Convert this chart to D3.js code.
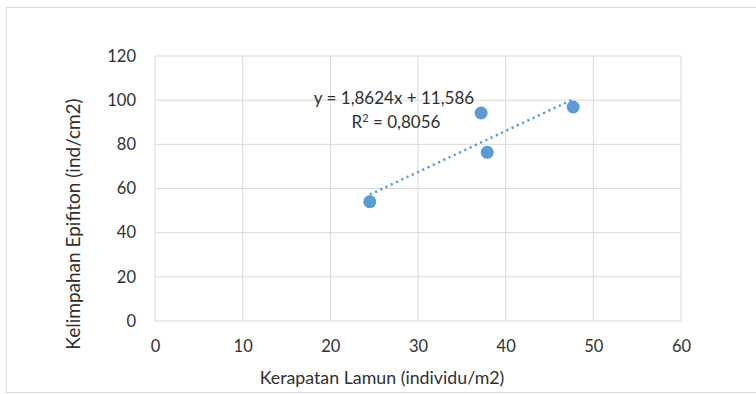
<!DOCTYPE html>
<html>
<head>
<meta charset="utf-8">
<script src="https://cdn.jsdelivr.net/npm/d3@7"></script>
<style>
  body { margin: 0; background: #fff; }
  text { font-family: Lato, "Open Sans", sans-serif; fill: #303030; }
</style>
</head>
<body>
<div id="chart"></div>
<script>
// data
var kerapatan = [24.5, 37.2, 37.9, 47.7];
var kelimpahan = [54.0, 94.2, 76.4, 96.9];
var x_ticks = [0, 10, 20, 30, 40, 50, 60];
var y_ticks = [0, 20, 40, 60, 80, 100, 120];
var slope = 1.8624;
var intercept = 11.586;
var eq_label = 'y = 1,8624x + 11,586';
var r2_label = '= 0,8056';

var chart_width = 756;
var chart_height = 394;
var margin = { left: 155, right: 75, top: 56, bottom: 73 };

var svg = d3.select('#chart')
    .append('svg')
    .attr('width', chart_width)
    .attr('height', chart_height);

// chart area border
svg.append('rect')
    .attr('x', 6.5).attr('y', 7.5)
    .attr('width', 780).attr('height', 385)
    .attr('fill', 'none')
    .attr('stroke', '#d9d9d9');

var x_scale = d3.scaleLinear()
    .domain([0, 60])
    .range([margin.left, chart_width - margin.right]);

var y_scale = d3.scaleLinear()
    .domain([0, 120])
    .range([chart_height - margin.bottom, margin.top]);

// grid
svg.append('g')
    .selectAll('line')
    .data(y_ticks)
    .enter()
    .append('line')
    .attr('x1', x_scale(0)).attr('x2', x_scale(60))
    .attr('y1', function (d) { return y_scale(d); })
    .attr('y2', function (d) { return y_scale(d); })
    .attr('stroke', '#d9d9d9');

svg.append('g')
    .selectAll('line')
    .data(x_ticks)
    .enter()
    .append('line')
    .attr('x1', function (d) { return x_scale(d); })
    .attr('x2', function (d) { return x_scale(d); })
    .attr('y1', y_scale(0)).attr('y2', y_scale(120))
    .attr('stroke', '#d9d9d9');

// axes (labels only)
var x_axis = d3.axisBottom(x_scale).tickValues(x_ticks).tickSize(0).tickPadding(19);
svg.append('g')
    .attr('transform', 'translate(0,' + y_scale(0) + ')')
    .call(x_axis)
    .call(function (g) { g.select('.domain').remove(); })
    .selectAll('text')
    .style('font-size', '16.5px')
    .style('font-family', 'Lato, sans-serif')
    .attr('fill', '#303030');

var y_axis = d3.axisLeft(y_scale).tickValues(y_ticks).tickSize(0).tickPadding(19);
svg.append('g')
    .attr('transform', 'translate(' + x_scale(0) + ',0)')
    .call(y_axis)
    .call(function (g) { g.select('.domain').remove(); })
    .selectAll('text')
    .style('font-size', '16.5px')
    .style('font-family', 'Lato, sans-serif')
    .attr('fill', '#303030');

// trendline
var x_min = d3.min(kerapatan), x_max = d3.max(kerapatan);
svg.append('line')
    .attr('x1', x_scale(x_min)).attr('y1', y_scale(slope * x_min + intercept))
    .attr('x2', x_scale(x_max)).attr('y2', y_scale(slope * x_max + intercept))
    .attr('stroke', '#5b9bd5')
    .attr('stroke-width', 2.5)
    .attr('stroke-dasharray', '2.2,3.6');

// points
svg.selectAll('circle')
    .data(kerapatan)
    .enter()
    .append('circle')
    .attr('cx', function (d) { return x_scale(d); })
    .attr('cy', function (d, i) { return y_scale(kelimpahan[i]); })
    .attr('r', 6.5)
    .attr('fill', '#5b9bd5');

// equation label
svg.append('text')
    .attr('x', 394).attr('y', 104)
    .attr('text-anchor', 'middle')
    .style('font-size', '17px')
    .text(eq_label);

var r2 = svg.append('text')
    .attr('x', 396).attr('y', 128)
    .attr('text-anchor', 'middle')
    .style('font-size', '17px');
r2.append('tspan').text('R');
r2.append('tspan').attr('dy', -6).style('font-size', '11px').text('2');
r2.append('tspan').attr('dy', 6).text(' ' + r2_label);

// axis titles
svg.append('text')
    .attr('x', 382).attr('y', 384)
    .attr('text-anchor', 'middle')
    .style('font-size', '17.8px')
    .text('Kerapatan Lamun (individu/m2)');

svg.append('text')
    .attr('transform', 'translate(80,224) rotate(-90)')
    .attr('text-anchor', 'middle')
    .style('font-size', '19px')
    .text('Kelimpahan Epifiton (ind/cm2)');
</script>
</body>
</html>
